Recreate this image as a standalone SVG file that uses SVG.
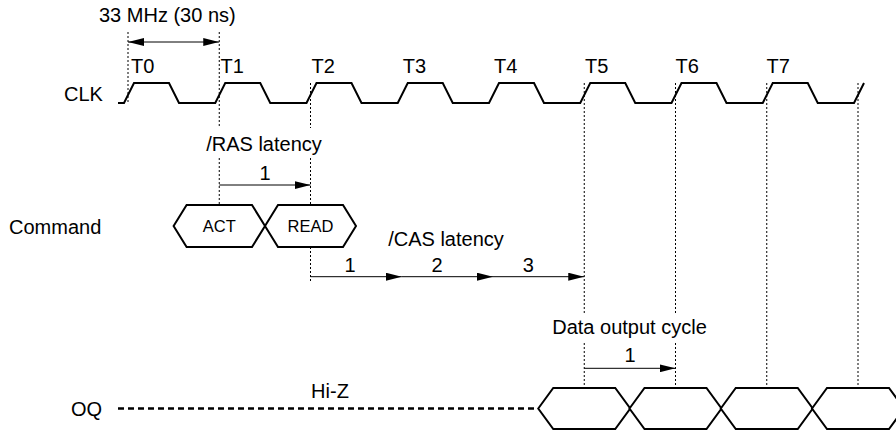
<svg xmlns="http://www.w3.org/2000/svg" width="896" height="433" viewBox="0 0 896 433">
<style>
text{font-family:"Liberation Sans",Arial,sans-serif;font-size:20px;fill:#000}
.sm{font-size:16.5px}
.mid{text-anchor:middle}
.grid{stroke:#000;stroke-width:1;stroke-dasharray:2 2;fill:none}
.wave{stroke:#000;stroke-width:2;fill:none;stroke-linejoin:miter}
.hex{stroke:#000;stroke-width:2;fill:#fff}
.arr{stroke:#000;stroke-width:1;fill:none;marker-end:url(#ah)}
</style>
<defs>
<marker id="ah" markerUnits="userSpaceOnUse" markerWidth="16" markerHeight="8" refX="16" refY="4" orient="auto-start-reverse">
<path d="M0,0 L16,4 L0,8 z" fill="#000"/>
</marker>
</defs>
<rect width="896" height="433" fill="#fff"/>

<g id="timing-grid">
<line class="grid" x1="128" y1="32" x2="128" y2="103"/>
<line class="grid" x1="219.25" y1="32" x2="219.25" y2="128"/>
<line class="grid" x1="219.25" y1="158" x2="219.25" y2="205"/>
<line class="grid" x1="310.5" y1="83" x2="310.5" y2="128"/>
<line class="grid" x1="310.5" y1="158" x2="310.5" y2="205"/>
<line class="grid" x1="310.5" y1="247" x2="310.5" y2="283"/>
<line class="grid" x1="584.25" y1="83" x2="584.25" y2="314"/>
<line class="grid" x1="584.25" y1="343" x2="584.25" y2="388"/>
<line class="grid" x1="675.5" y1="83" x2="675.5" y2="314"/>
<line class="grid" x1="675.5" y1="343" x2="675.5" y2="388"/>
<line class="grid" x1="766.75" y1="83" x2="766.75" y2="388"/>
<line class="grid" x1="858" y1="83" x2="858" y2="388"/>
</g>

<g id="clk">
<text x="64" y="100.7">CLK</text>
<path class="wave" d="M118,103 H124 L134,83 H169 L179,103 H215.25 L225.25,83 H260.25 L270.25,103 H306.5 L316.5,83 H351.5 L361.5,103 H397.75 L407.75,83 H442.75 L452.75,103 H489 L499,83 H534 L544,103 H580.25 L590.25,83 H625.25 L635.25,103 H671.5 L681.5,83 H716.5 L726.5,103 H762.75 L772.75,83 H807.75 L817.75,103 H854 L864,83"/>
<text x="131" y="72.7">T0</text>
<text x="220.5" y="72.7">T1</text>
<text x="311.5" y="72.7">T2</text>
<text x="402.8" y="72.7">T3</text>
<text x="494" y="72.7">T4</text>
<text x="585" y="72.7">T5</text>
<text x="675.5" y="72.7">T6</text>
<text x="766.5" y="72.7">T7</text>
</g>

<g id="command">
<text x="9" y="233.5">Command</text>
<g id="cmd-act">
<polygon class="hex" points="173.6,226 186.6,205 252,205 265,226 252,247 186.6,247"/>
<text class="sm mid" x="219.25" y="231.9">ACT</text>
</g>
<g id="cmd-read">
<polygon class="hex" points="265,226 278,205 343,205 356,226 343,247 278,247"/>
<text class="sm mid" x="310.5" y="231.9">READ</text>
</g>
</g>

<g id="oq">
<text x="71" y="415.5">OQ</text>
<line x1="118" y1="408.5" x2="538" y2="408.5" stroke="#000" stroke-width="2.7" stroke-dasharray="6 4"/>
<text class="mid" x="330" y="398">Hi-Z</text>
<g id="oq-d1"><polygon class="hex" points="538.25,408.5 553.25,388 615.25,388 630.25,408.5 615.25,429 553.25,429"/></g>
<g id="oq-d2"><polygon class="hex" points="629.5,408.5 644.5,388 706.5,388 721.5,408.5 706.5,429 644.5,429"/></g>
<g id="oq-d3"><polygon class="hex" points="720.75,408.5 735.75,388 797.75,388 812.75,408.5 797.75,429 735.75,429"/></g>
<g id="oq-d4"><polygon class="hex" points="812,408.5 827,388 889,388 904,408.5 889,429 827,429"/></g>
</g>

<g id="connectors">
<line class="arr" x1="128" y1="42" x2="219.25" y2="42" style="marker-start:url(#ah)"/>
<line class="arr" x1="219.25" y1="185" x2="310.5" y2="185"/>
<line class="arr" x1="310.5" y1="276.7" x2="401.75" y2="276.7"/>
<line class="arr" x1="401.75" y1="276.7" x2="493" y2="276.7"/>
<line class="arr" x1="493" y1="276.7" x2="584.25" y2="276.7"/>
<line class="arr" x1="584.25" y1="368.3" x2="675.5" y2="368.3"/>
</g>

<g id="labels">
<text x="99" y="22">33 MHz (30 ns)</text>
<text class="mid" x="264" y="150.5">/RAS latency</text>
<text class="mid" x="265" y="180">1</text>
<text class="mid" x="446" y="246">/CAS latency</text>
<text class="mid" x="350" y="271.7">1</text>
<text class="mid" x="437" y="271.7">2</text>
<text class="mid" x="528.3" y="271.7">3</text>
<text class="mid" x="629.5" y="334">Data output cycle</text>
<text class="mid" x="630" y="361.7">1</text>
</g>
</svg>
